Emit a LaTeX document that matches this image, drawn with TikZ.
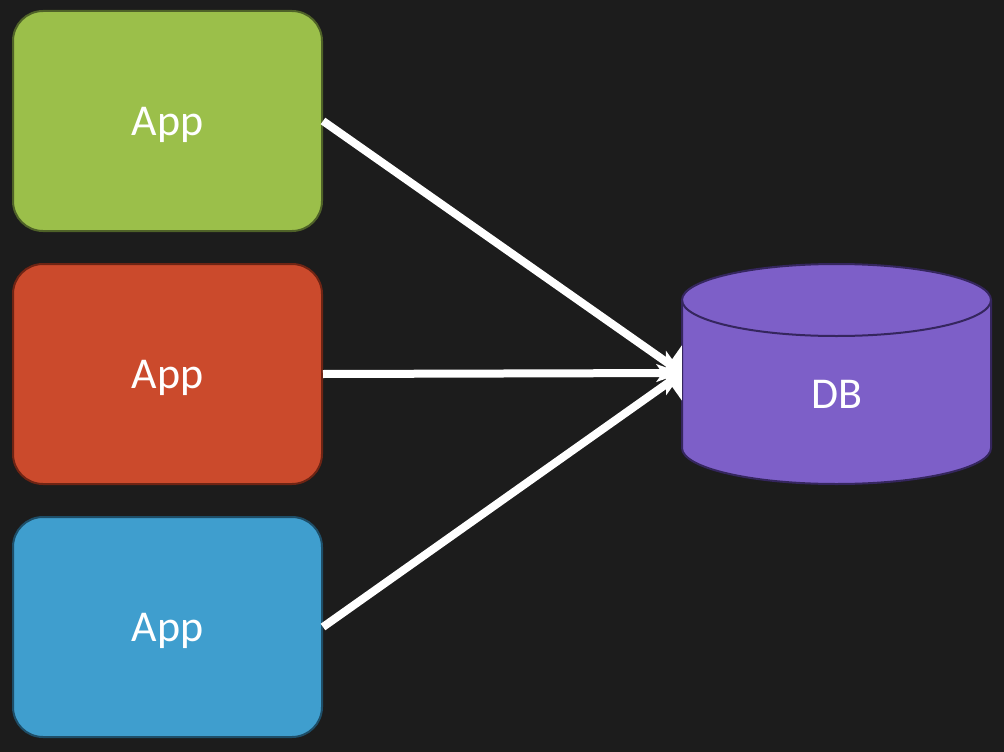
\documentclass[tikz,border=0pt]{standalone}
\usepackage{fontspec}
\setmainfont{Carlito}
\usetikzlibrary{arrows.meta}
\definecolor{bg}{HTML}{1C1C1C}
\definecolor{appgreen}{HTML}{9BBF4A}
\definecolor{appgreenb}{HTML}{4F6228}
\definecolor{appred}{HTML}{CB4A2C}
\definecolor{appredb}{HTML}{6E2414}
\definecolor{appblue}{HTML}{3F9ECE}
\definecolor{appblueb}{HTML}{1E4E68}
\definecolor{dbpurple}{HTML}{7D5FC8}
\definecolor{dbpurpleb}{HTML}{35265E}
\tikzset{
  appbox/.style={rectangle, rounded corners=30pt, minimum width=309pt, minimum height=220pt, line width=2pt, text=white, font=\fontsize{44}{50}\selectfont, inner sep=0pt, text height=28.5pt, text depth=0pt},
  flow/.style={draw=white, line width=8pt, -{Triangle[length=16pt 0 0,width=44pt 0 0]}},
}
\begin{document}
\begin{tikzpicture}[x=1pt,y=-1pt]
\fill[bg] (0,0) rectangle (1004,752);
\useasboundingbox (0,0) rectangle (1004,752);
\node[appbox, fill=appgreen, draw=appgreenb] (a1) at (167.5,121) {App};
\node[appbox, fill=appred, draw=appredb] (a2) at (167.5,374) {App};
\node[appbox, fill=appblue, draw=appblueb] (a3) at (167.5,627) {App};
% cylinder
\fill[dbpurple, draw=dbpurpleb, line width=2pt]
  (682,300) -- (682,448) arc[start angle=180, end angle=0, x radius=154.5, y radius=36]
  -- (991,300) arc[start angle=0, end angle=-180, x radius=154.5, y radius=36] -- cycle;
\draw[dbpurpleb, line width=2pt] (682,300) arc[start angle=180, end angle=0, x radius=154.5, y radius=36];
\node[text=white, font=\fontsize{44}{50}\selectfont, inner sep=0pt, text height=28.5pt, text depth=0pt] (db) at (836.5,394) {DB};
\coordinate (dbin) at (682,373);
\draw[flow] (a1.east) -- (dbin);
\draw[flow] (a2.east) -- (dbin);
\draw[flow] (a3.east) -- (dbin);
\end{tikzpicture}
\end{document}
